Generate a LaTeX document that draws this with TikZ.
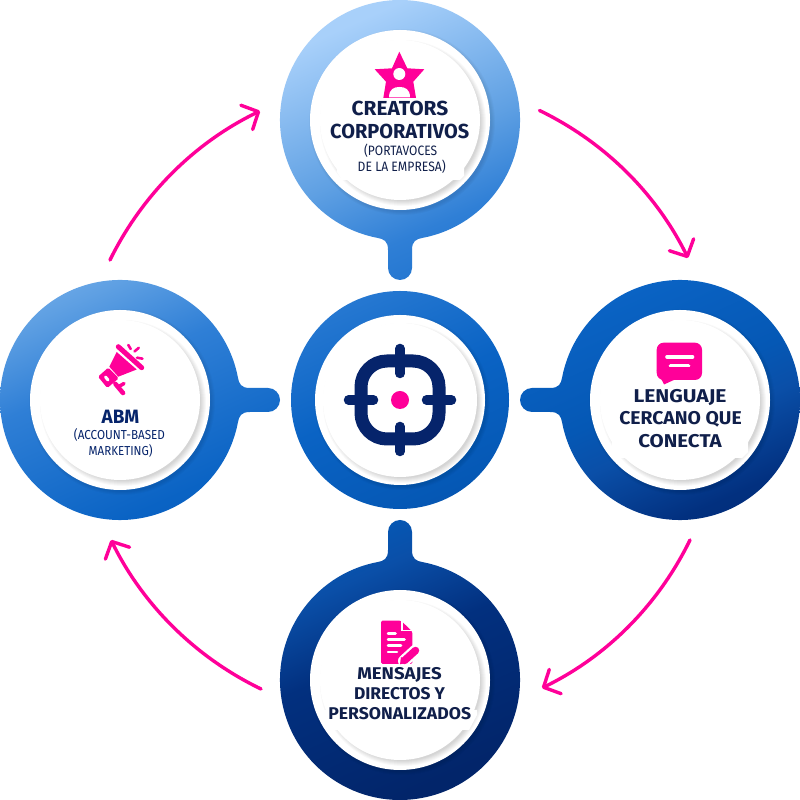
\documentclass[tikz,border=0pt]{standalone}
\usepackage{fontspec}
\usepackage{graphicx}
\setmainfont{Fira Sans}
\usetikzlibrary{arrows.meta}
\definecolor{g1}{HTML}{A8D0FA}
\definecolor{g2}{HTML}{5FA0E3}
\definecolor{g3}{HTML}{2F7FD6}
\definecolor{g4}{HTML}{0A63C4}
\definecolor{g5}{HTML}{0558B5}
\definecolor{g6}{HTML}{0A4FA8}
\definecolor{g7}{HTML}{02307F}
\definecolor{g8}{HTML}{02256A}
\definecolor{pinkc}{HTML}{FF0099}
\definecolor{navyc}{HTML}{06246B}
\definecolor{inkc}{HTML}{101F4A}
\pgfdeclarehorizontalshading{ringgrad}{100bp}{color(0bp)=(g1);color(27.2bp)=(g1);color(36bp)=(g2);color(40.9bp)=(g3);color(49.7bp)=(g4);color(56.3bp)=(g5);color(59.1bp)=(g6);color(64bp)=(g7);color(72.8bp)=(g8);color(100bp)=(g8)}
\newcommand{\ringfill}{\shade[shading=ringgrad,shading angle=-65.8] (0,0) rectangle (800,800);}
\newcommand{\blobat}[3]{\begin{scope}
  \path[clip,shift={(#1,#2)},rotate=#3] (23,-117.8) arc[start angle=-78.95,end angle=258.95,radius=120]
    .. controls (-16,-119) and (-12,-121) .. (-12,-130) -- (-12,-148)
    arc[start angle=180,end angle=360,radius=12] -- (12,-130)
    .. controls (12,-121) and (16,-119) .. (23,-117.8) -- cycle;
  \ringfill\end{scope}}
\newcommand{\whitedisc}[4]{% cx cy R r
  \foreach \k in {0,1,2,3}{\fill[black,opacity=.025] (#1+2,#2-2) circle (#3+\k);}
  \fill[white] (#1,#2) circle (#3);
  \begin{scope}\clip (#1,#2) circle (#3);
  \foreach \k in {0,1,2,3,4,5}{\fill[black,opacity=.028] (#1+3,#2-3) circle (#4-2+\k);}
  \end{scope}
  \fill[white] (#1,#2) circle (#4);}
\newcommand{\fitline}[3]{\resizebox{#1pt}{\height}{\fontsize{#2}{#2}\selectfont #3}}
\tikzset{
  lbl/.style={inner sep=0,outer sep=0,anchor=base,text=inkc},
  flow/.style={pinkc,line width=3.4pt,line cap=round,looseness=.88,-{Straight Barb[length=13pt,width=27pt,line width=3.4pt,round]}},
  iconp/.style={fill=pinkc,draw=none},
}
\begin{document}
\begin{tikzpicture}[x=1pt,y=1pt]
\useasboundingbox (0,0) rectangle (800,800);
\fill[white] (0,0) rectangle (800,800);
% rings
\blobat{400}{680}{0}
\blobat{120}{400}{90}
\blobat{680}{400}{-90}
\blobat{400}{120}{180}
\begin{scope}\clip (400,400) circle (109);\ringfill\end{scope}
% white discs
\whitedisc{400}{680}{90}{80}
\whitedisc{120}{400}{90}{80}
\whitedisc{680}{400}{90}{80}
\whitedisc{400}{120}{90}{80}
\whitedisc{400}{400}{85}{77}
\begin{scope}[shift={(0,800)},yscale=-1]
% white patches behind the text
\fill[white] (337,160) -- (337,172) -- (342,180) -- (460,180) -- (464,176) -- (464,160) -- cycle;
\fill[white] (612,440) -- (612,450) -- (620,458) -- (742,458) -- (748,452) -- (748,440) -- cycle;
\fill[white] (323,710) -- (323,715) -- (333,730) -- (469,730) -- (477,715) -- (477,710) -- cycle;
% target icon
\draw[navyc,line width=13pt,rounded corners=26pt] (361,361) rectangle (439,439);
\foreach \a/\b/\c/\d in {400/348.5/400/373.5,400/426.5/400/451.5,348.5/400/373.5/400,426.5/400/451.5/400}
  {\draw[navyc,line width=9.5pt,line cap=round] (\a,\b) -- (\c,\d);}
\fill[pinkc] (400,400) circle (9);
% star icon
\fill[pinkc,line join=round] (399.3,51.7) -- (407.3,68.3) -- (424.3,69.3) -- (413.3,81.7) -- (416,98) -- (383.3,98) -- (386,81.7) -- (374.7,69.3) -- (392,68.3) -- cycle;
\fill[white] (399.3,74) circle (6);
\fill[white] (389,97.5) .. controls (389,89) and (394,87) .. (399.5,87) .. controls (405,87) and (410,89) .. (410,97.5) -- cycle;
% megaphone icon
\draw[pinkc,line width=5pt,line cap=round] (118.3,346.7) -- (141.7,367.7);
\fill[pinkc] (116.7,352) -- (136.7,369.5) -- (118.3,376.7) -- (109.3,366.7) -- cycle;
\fill[pinkc,rounded corners=1.5pt] (98,376.7) -- (108.3,367.6) -- (118.8,378.3) -- (107.3,388) -- cycle;
\draw[white,line width=3pt,line cap=round] (105.5,377) -- (108,380);
\draw[pinkc,line width=4.6pt,line cap=round] (115.5,384) -- (123,393);
\draw[pinkc,line width=3.5pt,line cap=round] (118,387) -- (124,383.5);
\draw[pinkc,line width=2.6pt,line cap=round] (128.3,345) -- (130.7,349);
\draw[pinkc,line width=2.6pt,line cap=round] (134.5,351.5) -- (138.8,347.8);
\draw[pinkc,line width=2.6pt,line cap=round] (137,357.7) -- (142.5,358.7);
% bubble icon
\fill[pinkc,rounded corners=7pt] (656.7,342.7) rectangle (702,380);
\fill[pinkc] (656.7,370) -- (664,384.5) -- (676,379) -- (664,372) -- cycle;
\draw[white,line width=3.6pt,line cap=round] (667,357) -- (692.5,357);
\draw[white,line width=3.6pt,line cap=round] (670.5,365.7) -- (688.5,365.7);
% document icon
\fill[pinkc,rounded corners=1.5pt] (381,620.7) -- (401,620.7) -- (412.3,631.5) -- (412.3,664) -- (381,664) -- cycle;
\draw[white,line width=1.4pt] (402,620) -- (402,630.5) -- (413,630.5);
\draw[white,line width=2.5pt,line cap=round] (388,633.3) -- (395.5,633.3);
\draw[white,line width=2.5pt,line cap=round] (388,639.3) -- (404.5,639.3);
\draw[white,line width=2.5pt,line cap=round] (388,645.7) -- (401,645.7);
\draw[white,line width=2.5pt,line cap=round] (388,652) -- (397,652);
\draw[white,line width=12pt,line cap=round] (415.5,650.5) -- (404,661);
\fill[white] (398,664) rectangle (413,668);
\draw[pinkc,line width=7.5pt,line cap=round] (415.5,650.5) -- (404.5,660.5);
\fill[pinkc] (400,664.3) -- (401,657) -- (407,662.8) -- cycle;
% texts
\node[lbl] (t1) at (400,115.7) {\fitline{96.6}{20.3}{\bfseries CREATORS}};
\node[lbl] (t2) at (399.7,138.3) {\fitline{139}{20.3}{\bfseries CORPORATIVOS}};
\node[lbl] (t3) at (400.6,155.8) {\fitline{73}{13.6}{(PORTAVOCES}};
\node[lbl] (t4) at (401.7,171.8) {\fitline{88}{13.6}{DE LA EMPRESA)}};
\node[lbl,text=navyc] (l1) at (120.5,423.3) {\fitline{37.7}{19.3}{\bfseries ABM}};
\node[lbl,text=navyc] (l2) at (119.5,439.8) {\fitline{91}{13}{(ACCOUNT-BASED}};
\node[lbl,text=navyc] (l3) at (120.7,455.5) {\fitline{64}{13}{MARKETING)}};
\node[lbl] (r1) at (680,402.7) {\fitline{93}{18.5}{\bfseries LENGUAJE}};
\node[lbl] (r2) at (680.5,425) {\fitline{122.4}{18.5}{\bfseries CERCANO QUE}};
\node[lbl] (r3) at (680,447.7) {\fitline{83.4}{18.5}{\bfseries CONECTA}};
\node[lbl] (b1) at (399.5,680) {\fitline{84.4}{17}{\bfseries MENSAJES}};
\node[lbl] (b2) at (399.5,700) {\fitline{91}{17}{\bfseries DIRECTOS Y}};
\node[lbl] (b3) at (399.7,720) {\fitline{142.7}{17}{\bfseries PERSONALIZADOS}};
% connectors
\coordinate (trs) at (539.5,110.5);
\coordinate (tre) at (688,258);
\coordinate (brs) at (690,540);
\coordinate (bre) at (542,688);
\coordinate (bls) at (261,689);
\coordinate (ble) at (111,540);
\coordinate (tls) at (110,260);
\coordinate (tle) at (260,111);
\draw[flow] (trs) to[bend right=19] (tre);
\draw[flow] (brs) to[bend right=19] (bre);
\draw[flow] (bls) to[bend right=19] (ble);
\draw[flow] (tls) to[bend right=19] (tle);
\end{scope}
\end{tikzpicture}
\end{document}
